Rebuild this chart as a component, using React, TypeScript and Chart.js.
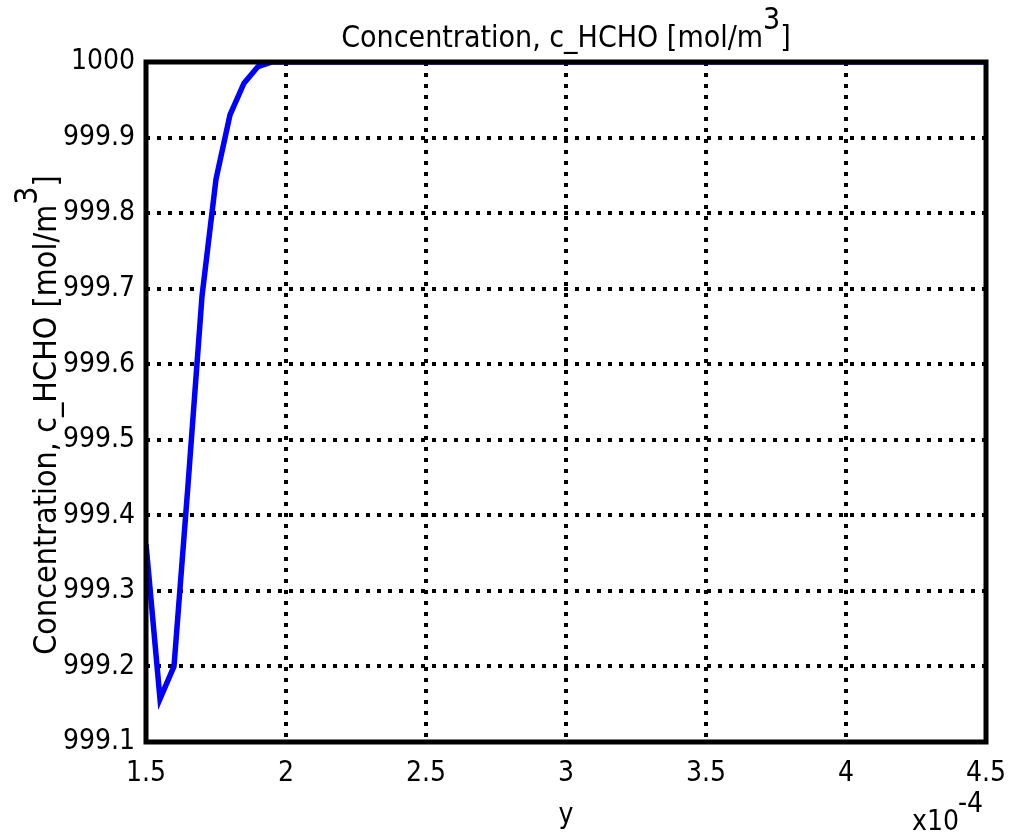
import React, { useEffect, useRef } from "react";
import { Chart, registerables } from "chart.js";

Chart.register(...registerables);

// x values in units of 1e-4
const xValues = [1.5, 1.55, 1.6, 1.65, 1.7, 1.75, 1.8, 1.85, 1.9, 1.95, 2.0, 2.1, 2.25, 2.5, 2.75, 3.0, 3.25, 3.5, 3.75, 4.0, 4.25, 4.5];
const concentration = [999.362, 999.157, 999.2, 999.44, 999.69, 999.845, 999.93, 999.972, 999.994, 1000.0, 1000.0, 1000.0, 1000.0, 1000.0, 1000.0, 1000.0, 1000.0, 1000.0, 1000.0, 1000.0, 1000.0, 1000.0];
const xTicks = [1.5, 2, 2.5, 3, 3.5, 4, 4.5];
const yTicks = [999.1, 999.2, 999.3, 999.4, 999.5, 999.6, 999.7, 999.8, 999.9, 1000];

const FONT = "'DejaVu Sans Condensed', 'DejaVu Sans', Verdana, sans-serif";
const FS = 28;
const TFS = 30;
const YTFS = 32;

function drawSupText(ctx: any, x0: number, y: number, raise: number) {
  const main = "Concentration, c_HCHO [mol/m";
  const wMain = ctx.measureText(main).width;
  const wSup = ctx.measureText("3").width;
  ctx.fillText(main, x0, y);
  ctx.fillText("3", x0 + wMain, y - raise);
  ctx.fillText("]", x0 + wMain + wSup, y);
}
function supWidth(ctx: any) {
  return (
    ctx.measureText("Concentration, c_HCHO [mol/m").width +
    ctx.measureText("3").width +
    ctx.measureText("]").width
  );
}

const textPlugin = {
  id: "customText",
  afterDraw(chart: any) {
    const ctx = chart.ctx;
    const a = chart.chartArea;
    ctx.save();
    // frame
    ctx.strokeStyle = "#000";
    ctx.lineWidth = 5;
    ctx.strokeRect(a.left, a.top, a.right - a.left, a.bottom - a.top);

    ctx.fillStyle = "#000";
    ctx.textBaseline = "alphabetic";
    ctx.textAlign = "left";
    const cx = (a.left + a.right) / 2;

    // title
    ctx.font = `${TFS}px ${FONT}`;
    drawSupText(ctx, cx - supWidth(ctx) / 2, 47, 18);

    // y axis title (rotated)
    ctx.save();
    ctx.font = `${YTFS}px ${FONT}`;
    ctx.translate(56, 415);
    ctx.rotate(-Math.PI / 2);
    drawSupText(ctx, -supWidth(ctx) / 2, 0, 19);
    ctx.restore();

    // x axis title
    ctx.font = `${FS}px ${FONT}`;
    ctx.textAlign = "center";
    ctx.fillText("y", cx, 823);

    // exponent
    ctx.textAlign = "left";
    ctx.fillText("x10", 912, 830);
    ctx.fillText("-4", 958, 812);
    ctx.restore();
  },
};

export default function App() {
  const ref = useRef<HTMLCanvasElement>(null);
  useEffect(() => {
    if (!ref.current) return;
    const chart = new Chart(ref.current, {
      type: "line",
      data: {
        datasets: [
          {
            data: xValues.map((x, i) => ({ x, y: concentration[i] })),
            borderColor: "#0000ff",
            borderWidth: 5.5,
            pointRadius: 0,
            fill: false,
            tension: 0,
          },
        ],
      },
      options: {
        animation: false,
        responsive: false,
        maintainAspectRatio: false,
        layout: { padding: { top: 62, right: 23, left: 0, bottom: 0 } },
        plugins: { legend: { display: false }, tooltip: { enabled: false }, title: { display: false } },
        scales: {
          x: {
            type: "linear",
            min: 1.5,
            max: 4.5,
            afterBuildTicks: (s: any) => {
              s.ticks = xTicks.map((v) => ({ value: v }));
            },
            afterFit: (s: any) => {
              s.height = 93;
              s.paddingLeft = 0;
              s.paddingRight = 0;
            },
            ticks: {
              color: "#000",
              font: { family: FONT, size: FS },
              padding: 15,
              maxRotation: 0,
              callback: (v: any) => String(v),
            },
            grid: { color: "#000", lineWidth: 4, drawTicks: false },
            border: { display: false, dash: [4, 7] },
          },
          y: {
            type: "linear",
            min: 999.1,
            max: 1000,
            afterBuildTicks: (s: any) => {
              s.ticks = yTicks.map((v) => ({ value: v }));
            },
            afterFit: (s: any) => {
              s.width = 146;
              s.paddingTop = 0;
              s.paddingBottom = 0;
            },
            ticks: {
              color: "#000",
              font: { family: FONT, size: FS },
              padding: 11,
              callback: (v: any) => (Math.abs(v - 1000) < 1e-9 ? "1000" : Number(v).toFixed(1)),
            },
            grid: { color: "#000", lineWidth: 4, drawTicks: false },
            border: { display: false, dash: [4, 7] },
          },
        },
      },
      plugins: [textPlugin],
    });
    return () => chart.destroy();
  }, []);
  return (
    <div style={{ position: "fixed", left: 0, top: 0, width: 1009, height: 835, background: "#fff" }}>
      <canvas ref={ref} width={1009} height={835} style={{ width: 1009, height: 835 }} />
    </div>
  );
}
